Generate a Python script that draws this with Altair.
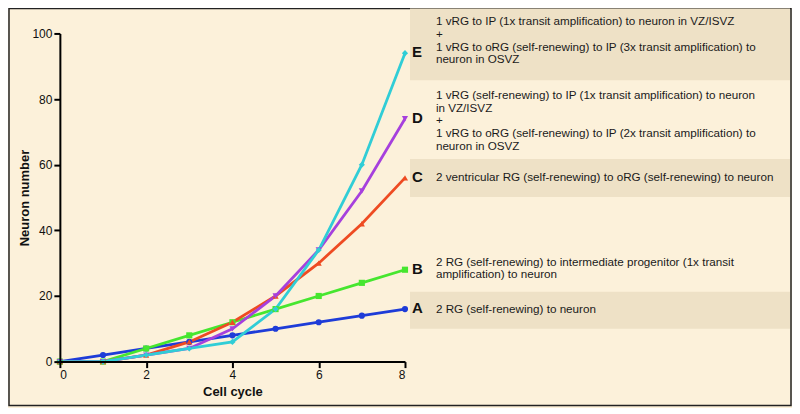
import altair as alt
import pandas as pd

cycles = [0, 1, 2, 3, 4, 5, 6, 7, 8]
series_names = ["A", "B", "C", "D", "E"]
vals_A = [0, 2, 4, 6, 8, 10, 12, 14, 16]
vals_B = [0, 0, 4, 8, 12, 16, 20, 24, 28]
vals_C = [0, 0, 2, 6, 12, 20, 30, 42, 56]
vals_D = [0, 0, 2, 4, 10, 20, 34, 52, 74]
vals_E = [0, 0, 2, 4, 6, 16, 34, 60, 94]
series_colors = ["#1E3CD8", "#46E62F", "#EE4B22", "#A640DD", "#30CDD6"]
series_shapes = ["circle", "square", "triangle-up", "triangle-down", "diamond"]
x_ticks = [0, 2, 4, 6, 8]
y_ticks = [0, 20, 40, 60, 80, 100]

desc_E = ["1 vRG to IP (1x transit amplification) to neuron in VZ/ISVZ",
          "+",
          "1 vRG to oRG (self-renewing) to IP (3x transit amplification) to",
          "neuron in OSVZ"]
desc_D = ["1 vRG (self-renewing) to IP (1x transit amplification) to neuron",
          "in VZ/ISVZ",
          "+",
          "1 vRG to oRG (self-renewing) to IP (2x transit amplification) to",
          "neuron in OSVZ"]
desc_C = ["2 ventricular RG (self-renewing) to oRG (self-renewing) to neuron"]
desc_B = ["2 RG (self-renewing) to intermediate progenitor (1x transit",
          "amplification) to neuron"]
desc_A = ["2 RG (self-renewing) to neuron"]

CREAM = "#FCF1DA"
BAND = "#EEE1C6"
FONT = "Liberation Sans"

all_vals = [vals_A, vals_B, vals_C, vals_D, vals_E]
rows = []
for name, vals in zip(series_names, all_vals):
    for c, v in zip(cycles, vals):
        rows.append({"series": name, "cycle": c, "neurons": v})
df = pd.DataFrame(rows)
ends = pd.DataFrame({"series": series_names,
                     "cycle": [cycles[-1]] * 5,
                     "neurons": [v[-1] for v in all_vals]})
one = pd.DataFrame({"k": [0]})

xs = alt.Scale(domain=[0, 8], nice=False)
ys = alt.Scale(domain=[0, 100], nice=False)
col = alt.Scale(domain=series_names, range=series_colors)
shp = alt.Scale(domain=series_names, range=series_shapes)

frame = alt.Chart(one).mark_rect(fillOpacity=0, stroke="#222222", strokeWidth=1.5).encode(
    x=alt.value(-51), x2=alt.value(733), y=alt.value(-25), y2=alt.value(373))

def band(y0, y1):
    return alt.Chart(one).mark_rect(fill=BAND).encode(
        x=alt.value(351), x2=alt.value(732), y=alt.value(y0), y2=alt.value(y1))

bands = [band(-25, 47), band(126, 164), band(259, 296)]

lines = alt.Chart(df).mark_line(strokeWidth=2.8).encode(
    x=alt.X("cycle:Q", scale=xs,
            axis=alt.Axis(values=x_ticks, title="Cell cycle", format="d", zindex=1)),
    y=alt.Y("neurons:Q", scale=ys,
            axis=alt.Axis(values=y_ticks, title="Neuron number", format="d", zindex=1)),
    color=alt.Color("series:N", scale=col, legend=None),
    order="cycle:Q",
)
points = alt.Chart(df).mark_point(filled=True, size=38, opacity=1).encode(
    x=alt.X("cycle:Q", scale=xs),
    y=alt.Y("neurons:Q", scale=ys),
    color=alt.Color("series:N", scale=col, legend=None),
    shape=alt.Shape("series:N", scale=shp, legend=None),
)
letters = alt.Chart(ends).mark_text(
    align="left", baseline="middle", dx=7, dy=-1, font=FONT, fontSize=15,
    fontWeight="bold", color="#111111").encode(
    x=alt.X("cycle:Q", scale=xs),
    y=alt.Y("neurons:Q", scale=ys),
    text="series:N",
)

def desc(lines_, yc):
    return alt.Chart(one).mark_text(
        text=lines_, align="left", baseline="middle", font=FONT, fontSize=11.7,
        lineHeight=12.6, color="#1a1a1a").encode(
        x=alt.value(377), y=alt.value(yc))

descs = [desc(desc_E, -12), desc(desc_D, 62), desc(desc_C, 144),
         desc(desc_B, 229), desc(desc_A, 276)]

chart = alt.layer(lines, points, frame, *bands, letters, *descs).properties(
    width=346, height=329,
    padding={"left": 52, "top": 25, "right": 388, "bottom": 46},
    autosize=alt.AutoSizeParams(type="none"),
    background=CREAM,
).configure_view(stroke=None).configure_axis(
    grid=False, domainColor="#000000", domainWidth=2, tickColor="#000000",
    tickWidth=2, tickSize=6, labelFont=FONT, labelFontSize=12,
    labelColor="#111111", labelPadding=2, titleFont=FONT, titleFontSize=13,
    titleFontWeight="bold", titleColor="#111111",
).configure_axisX(titlePadding=5).configure_axisY(titlePadding=0)

chart.save("out.html", embed_options={"renderer": "svg", "actions": False})
